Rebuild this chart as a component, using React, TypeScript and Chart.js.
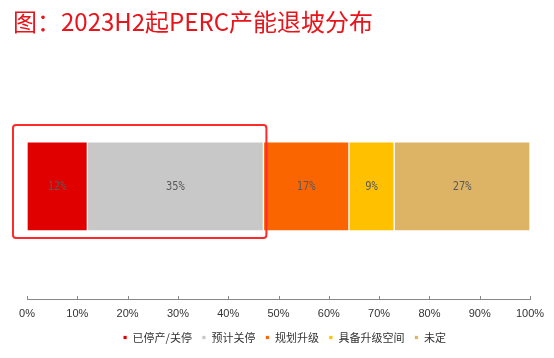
import React, { useEffect, useRef } from "react";
import { Chart, registerables } from "chart.js";

Chart.register(...registerables);

const categories = ["PERC"];
const seriesNames = ["已停产/关停", "预计关停", "规划升级", "具备升级空间", "未定"];
const seriesValues = [12, 35, 17, 9, 27];
const seriesColors = ["#e00000", "#c8c8c8", "#fb6500", "#ffc000", "#ddb465"];
const tickValues = [0, 10, 20, 30, 40, 50, 60, 70, 80, 90, 100];
const titleText = "图：2023H2起PERC产能退坡分布";

const legendShiftPlugin = {
  id: "legendShift",
  afterLayout(chart: any) {
    const lg = chart.legend;
    if (lg) {
      lg.left += 13;
      lg.right += 13;
    }
  },
};

const labelPlugin = {
  id: "segLabels",
  afterDatasetsDraw(chart: any) {
    const ctx = chart.ctx;
    ctx.save();
    ctx.font = "13px 'DejaVu Sans Mono', monospace";
    ctx.fillStyle = "#5a5a5a";
    ctx.textAlign = "center";
    ctx.textBaseline = "middle";
    chart.data.datasets.forEach((ds: any, i: number) => {
      const meta = chart.getDatasetMeta(i);
      meta.data.forEach((el: any, j: number) => {
        const cx = (el.x + el.base) / 2;
        ctx.save();
        ctx.translate(cx, el.y);
        ctx.scale(0.8, 1);
        ctx.fillText(ds.data[j] + "%", 0, 0);
        ctx.restore();
      });
    });
    // highlight box around first two segments
    const m0 = chart.getDatasetMeta(0).data[0];
    const m1 = chart.getDatasetMeta(1).data[0];
    if (m0 && m1) {
      const left = m0.base - 14;
      const right = m1.x + 3;
      const top = m0.y - m0.height / 2 - 17;
      const bottom = m0.y + m0.height / 2 + 7;
      ctx.strokeStyle = "#ff2a2a";
      ctx.lineWidth = 2;
      ctx.beginPath();
      (ctx as any).roundRect(left, top, right - left, bottom - top, 3);
      ctx.stroke();
    }
    // upward tick marks on axis
    const xs = chart.scales.x;
    ctx.strokeStyle = "#888";
    ctx.lineWidth = 1;
    tickValues.forEach((v) => {
      const px = Math.round(xs.getPixelForValue(v)) + 0.5;
      ctx.beginPath();
      ctx.moveTo(px, xs.top + 0.5);
      ctx.lineTo(px, xs.top - 3);
      ctx.stroke();
    });
    ctx.restore();
  },
};

export default function App() {
  const ref = useRef<HTMLCanvasElement>(null);
  useEffect(() => {
    if (!ref.current) return;
    const chart = new Chart(ref.current, {
      type: "bar",
      data: {
        labels: categories,
        datasets: seriesNames.map((name, i) => ({
          label: name,
          data: [seriesValues[i]],
          backgroundColor: seriesColors[i],
          borderColor: "rgba(255,255,255,0.8)",
          borderWidth: 1,
          borderSkipped: false,
          barThickness: 89,
        })),
      },
      options: {
        indexAxis: "y",
        animation: false,
        responsive: false,
        maintainAspectRatio: false,
        layout: { padding: { left: 13, right: 24, top: 0, bottom: 5 } },
        scales: {
          x: {
            stacked: true,
            min: 0,
            max: 100,
            afterBuildTicks: (axis: any) => {
              axis.ticks = tickValues.map((v) => ({ value: v }));
            },
            afterFit: (axis: any) => {
              axis.height = 23;
              axis.paddingLeft = 0;
              axis.paddingRight = 0;
            },
            grid: { display: false, drawTicks: false },
            border: { display: true, color: "#888", width: 1 },
            ticks: {
              callback: (v: any) => v + "%",
              color: "#333",
              font: { size: 11, family: "'Liberation Sans', Arial, sans-serif" },
              padding: 8,
              maxRotation: 0,
            },
          },
          y: {
            stacked: true,
            display: true,
            grid: { display: false, drawTicks: false },
            border: { display: false },
            ticks: { display: false },
            afterFit: (axis: any) => {
              axis.width = 14;
            },
          },
        },
        plugins: {
          title: {
            display: true,
            text: titleText,
            align: "start",
            color: "#e8141b",
            font: { size: 24, family: "'Noto Sans CJK SC', sans-serif", weight: "normal" },
            padding: { top: 7, bottom: 38 },
          },
          legend: {
            position: "bottom",
            labels: {
              boxWidth: 4,
              boxHeight: 4,
              color: "#333",
              font: { size: 11, family: "'Noto Sans CJK SC', sans-serif" },
              padding: 10,
            },
          },
          tooltip: { enabled: false },
        },
      },
      plugins: [labelPlugin, legendShiftPlugin],
    } as any);
    return () => chart.destroy();
  }, []);
  return (
    <div style={{ position: "absolute", left: 0, top: 0, width: 554, height: 358, background: "#fff" }}>
      <canvas ref={ref} width={554} height={358} style={{ width: 554, height: 358 }} />
    </div>
  );
}
